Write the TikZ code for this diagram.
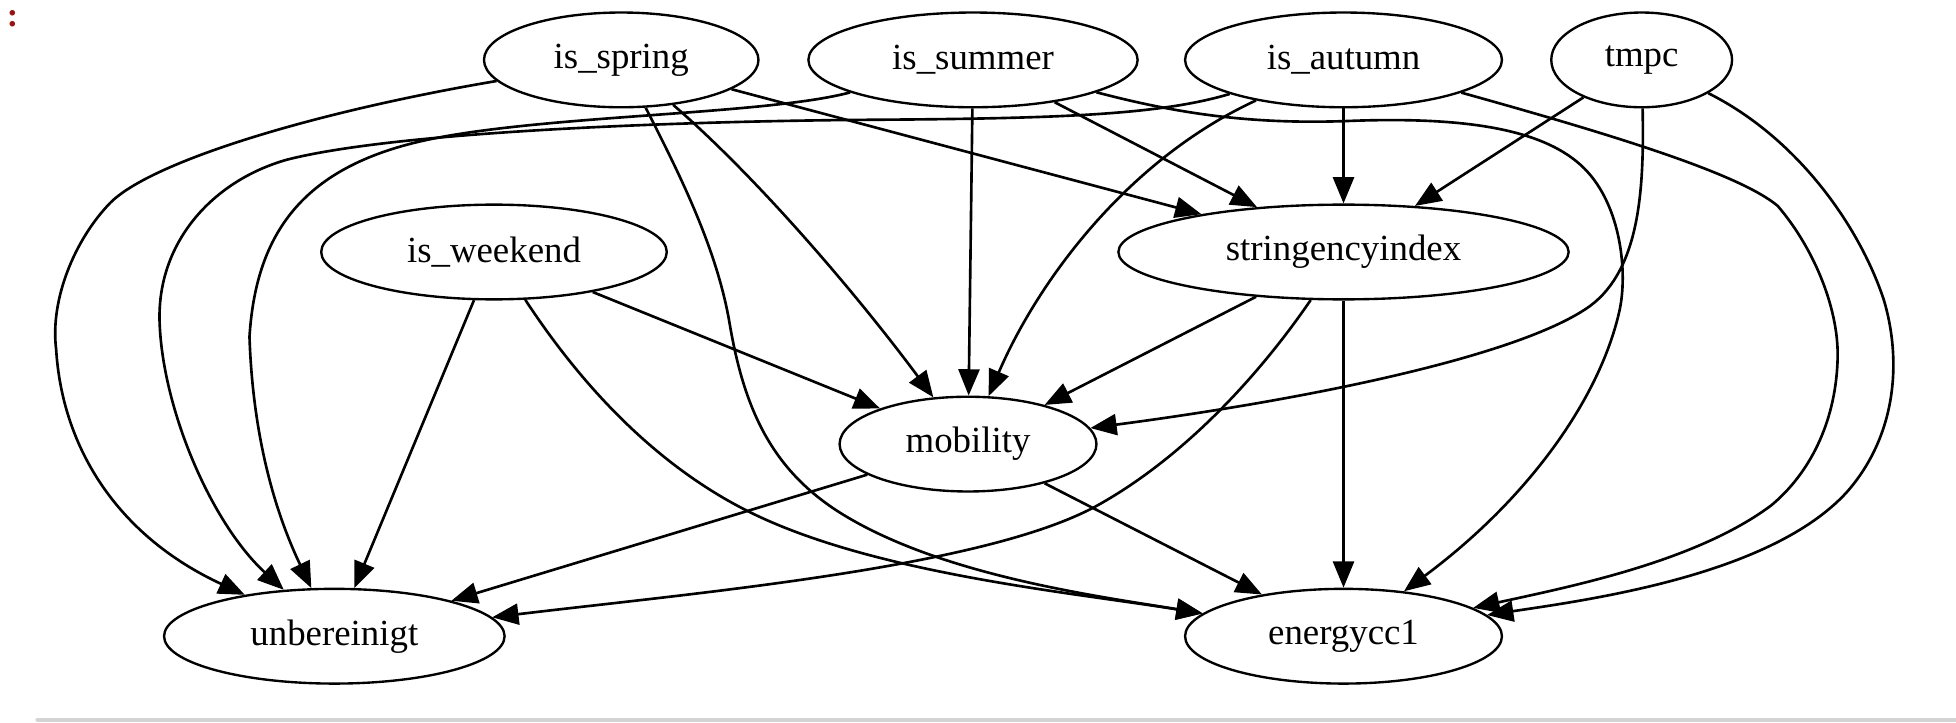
\documentclass[tikz,border=0pt]{standalone}
\usepackage{fontspec}
\setmainfont{Liberation Serif}
\usetikzlibrary{shapes.geometric, arrows.meta}
\definecolor{promptred}{RGB}{150,20,20}
\definecolor{rulegray}{RGB}{212,212,212}

\begin{document}
\begin{tikzpicture}[x=0.474pt, y=-0.474pt,
        var/.style={draw, ellipse, line width=0.9pt, inner sep=0pt, minimum height=36pt,
            font=\fontsize{14}{16}\selectfont},
        edge/.style={line width=1pt, -{Triangle[length=10pt, width=8pt]}}]
        \useasboundingbox (0,0) rectangle (1568,578.8);

        % Top row
        \node[var, minimum width=104.3pt] (is_spring) at (498, 48){is\_spring};
        \node[var, minimum width=125.1pt] (is_summer) at (780, 48){is\_summer};
        \node[var, minimum width=120.4pt] (is_autumn) at (1077, 48){is\_autumn};
        \node[var, minimum width=68.7pt] (tmpc) at (1316, 48){tmpc};

        % Middle rows
        \node[var, minimum width=131.3pt] (is_weekend) at (396, 202){is\_weekend};
        \node[var, minimum width=171.1pt] (stringencyindex) at (1077, 202){stringencyindex};
        \node[var, minimum width=97.6pt] (mobility) at (776, 356){mobility};

        % Bottom row
        \node[var, minimum width=129.4pt] (unbereinigt) at (268, 510){unbereinigt};
        \node[var, minimum width=120.4pt] (energycc1) at (1077, 510){energycc1};

        % Edges from is_spring
        \draw[edge] (is_spring) .. controls (250, 90) and (120, 130) .. (88, 163)
            .. controls (60, 192) and (40, 240) .. (45, 280)
            .. controls (50, 360) and (95, 430) .. (unbereinigt);
        \draw[edge] (is_spring) .. controls (545, 140) and (575, 200) .. (585, 260)
            .. controls (597, 330) and (620, 380) .. (680, 415)
            .. controls (760, 462) and (880, 478) .. (energycc1);
        \draw[edge] (is_spring) .. controls (610, 145) and (690, 240) .. (mobility);
        \draw[edge] (is_spring) -- (stringencyindex);

        % Edges from is_summer
        \draw[edge] (is_summer) .. controls (610, 93) and (420, 92) .. (330, 115)
            .. controls (240, 138) and (205, 190) .. (200, 270)
            .. controls (203, 360) and (225, 420) .. (unbereinigt);
        \draw[edge] (is_summer) -- (mobility);
        \draw[edge] (is_summer) -- (stringencyindex);
        \draw[edge] (is_summer) .. controls (940, 90) and (1000, 100) .. (1080, 97)
            .. controls (1180, 93) and (1240, 105) .. (1270, 135)
            .. controls (1300, 165) and (1305, 220) .. (1298, 250)
            .. controls (1282, 320) and (1225, 400) .. (energycc1);

        % Edges from is_autumn
        \draw[edge] (is_autumn) .. controls (930, 92) and (850, 95) .. (700, 96)
            .. controls (550, 97) and (320, 105) .. (230, 128)
            .. controls (170, 145) and (125, 195) .. (128, 260)
            .. controls (131, 330) and (170, 420) .. (unbereinigt);
        \draw[edge] (is_autumn) .. controls (900, 130) and (830, 230) .. (mobility);
        \draw[edge] (is_autumn) -- (stringencyindex);
        \draw[edge] (is_autumn) .. controls (1300, 110) and (1395, 140) .. (1425, 165)
            .. controls (1455, 200) and (1475, 250) .. (1473, 290)
            .. controls (1471, 340) and (1450, 380) .. (1420, 405)
            .. controls (1360, 450) and (1260, 470) .. (energycc1);

        % Edges from tmpc
        \draw[edge] (tmpc) -- (stringencyindex);
        \draw[edge] (tmpc) .. controls (1318, 150) and (1315, 215) .. (1275, 245)
            .. controls (1220, 285) and (1050, 320) .. (mobility);
        \draw[edge] (tmpc) .. controls (1440, 110) and (1490, 180) .. (1510, 240)
            .. controls (1525, 290) and (1520, 350) .. (1480, 395)
            .. controls (1420, 460) and (1280, 480) .. (energycc1);

        % Edges from is_weekend
        \draw[edge] (is_weekend) -- (unbereinigt);
        \draw[edge] (is_weekend) -- (mobility);
        \draw[edge] (is_weekend) .. controls (470, 315) and (530, 375) .. (600, 410)
            .. controls (700, 460) and (860, 475) .. (energycc1);

        % Edges from stringencyindex
        \draw[edge] (stringencyindex) -- (mobility);
        \draw[edge] (stringencyindex) .. controls (1010, 300) and (950, 366) .. (880, 405)
            .. controls (790, 455) and (560, 475) .. (unbereinigt);
        \draw[edge] (stringencyindex) -- (energycc1);

        % Edges from mobility
        \draw[edge] (mobility) -- (unbereinigt);
        \draw[edge] (mobility) -- (energycc1);

        % Prompt mark and rule
        \node[text=promptred, font=\fontsize{13}{13}\selectfont\bfseries] (prompt) at (10, 15){:};
        \draw[rulegray, line width=1.5pt, line cap=round] (30, 577) -- (1568, 577);
    \end{tikzpicture}
\end{document}
